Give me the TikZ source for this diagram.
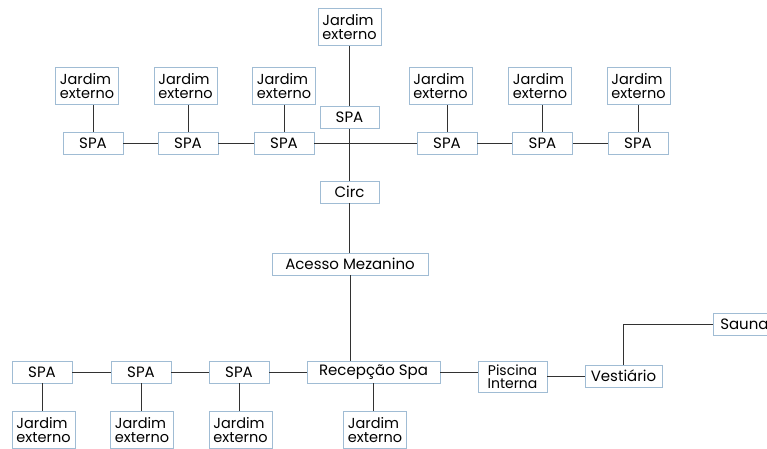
\documentclass[tikz,border=0pt]{standalone}
\usepackage{fontspec}
\setmainfont{Poppins}
\definecolor{caixa}{RGB}{160,188,212}
\definecolor{linha}{RGB}{50,50,50}
\tikzset{
  sala/.style={draw=caixa, line width=0.8pt, fill=white, inner sep=1pt,
    minimum height=22pt, font=\fontsize{15}{14}\selectfont},
  spa/.style={sala, minimum width=60pt},
  jardim/.style={sala, minimum width=63pt, minimum height=37pt, align=left,
    font=\fontsize{14.5}{14}\selectfont},
  liga/.style={draw=linha, line width=0.8pt}
}
\begin{document}
\begin{tikzpicture}[x=1pt,y=-1pt]
\useasboundingbox (0,0) rectangle (767,448);
% eixo superior
\node[jardim] (jtop) at (349.5,27) {Jardim\\externo};
\node[spa, minimum width=59pt] (spat) at (349.5,117.5) {SPA};
\node[spa] (spa1) at (93,143) {SPA};
\node[spa] (spa2) at (188,143) {SPA};
\node[spa] (spa3) at (284,143) {SPA};
\node[spa] (spa4) at (447,143) {SPA};
\node[spa] (spa5) at (542.5,143) {SPA};
\node[spa] (spa6) at (638,143) {SPA};
\node[jardim] (j1) at (87,86) {Jardim\\externo};
\node[jardim] (j2) at (185.5,86) {Jardim\\externo};
\node[jardim] (j3) at (284,86) {Jardim\\externo};
\node[jardim] (j4) at (440.5,86) {Jardim\\externo};
\node[jardim] (j5) at (540,86) {Jardim\\externo};
\node[jardim] (j6) at (638.5,86) {Jardim\\externo};
\node[spa, minimum width=59pt] (circ) at (349.5,192) {Circ};
\node[sala, minimum width=156pt] (acesso) at (350,264) {Acesso Mezanino};
% eixo inferior
\node[sala, minimum width=133pt] (recep) at (373.5,372) {Recepção Spa};
\node[spa] (spaA) at (42,372) {SPA};
\node[spa] (spaB) at (141,372) {SPA};
\node[spa] (spaC) at (239,372) {SPA};
\node[jardim] (jA) at (43.5,430) {Jardim\\externo};
\node[jardim] (jB) at (142,430) {Jardim\\externo};
\node[jardim] (jC) at (240.5,430) {Jardim\\externo};
\node[jardim] (jR) at (375,430) {Jardim\\externo};
\node[sala, minimum width=69pt, minimum height=31pt, inner sep=0pt, align=center,
  font=\fontsize{14}{13.5}\selectfont] (piscina) at (512.5,376.5) {Piscina\\Interna};
\node[sala, minimum width=77pt] (vest) at (623.5,376) {Vestiário};
\node[sala, minimum width=62pt, anchor=west] (sauna) at (713,324) {Sauna};
% ligacoes
\draw[liga] (jtop) -- (spat);
\draw[liga] (spat) -- (circ);
\draw[liga] (circ) -- (circ |- acesso.north);
\draw[liga] (acesso.south) -- (acesso.south |- recep.north);
\draw[liga] (spa1) -- (spa2);
\draw[liga] (spa2) -- (spa3);
\draw[liga] (spa3) -- (spa4);
\draw[liga] (spa4) -- (spa5);
\draw[liga] (spa5) -- (spa6);
\foreach \s/\j in {spa1/j1,spa2/j2,spa3/j3,spa4/j4,spa5/j5,spa6/j6}
  \draw[liga] (\s.north) -- (\s.north |- \j.south);
\draw[liga] (spaA) -- (spaB);
\draw[liga] (spaB) -- (spaC);
\draw[liga] (spaC) -- (recep);
\foreach \s/\j in {spaA/jA,spaB/jB,spaC/jC,recep/jR}
  \draw[liga] (\s.south) -- (\s.south |- \j.north);
\draw[liga] (recep.east) -- (recep.east -| piscina.west);
\draw[liga] (piscina.east |- vest.west) -- (vest.west);
\draw[liga] (vest.north) |- (sauna.west);
\end{tikzpicture}
\end{document}
